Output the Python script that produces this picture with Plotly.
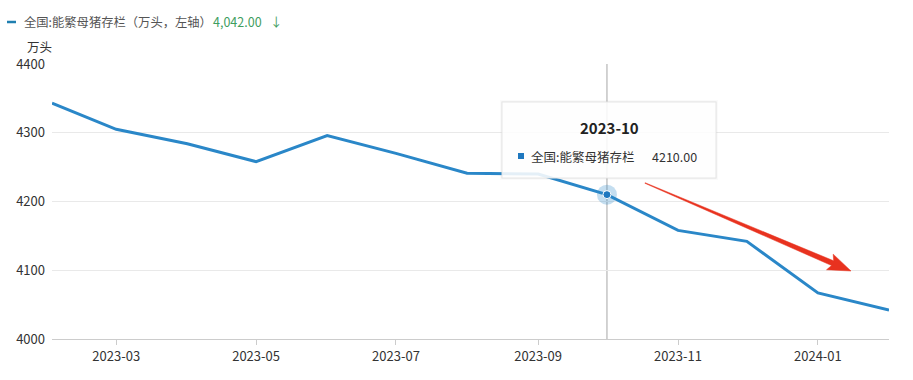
import plotly.graph_objects as go
import math

# ---- data ----
months = ["2023-02-01", "2023-03-01", "2023-04-01", "2023-05-01", "2023-06-01", "2023-07-01",
          "2023-08-01", "2023-09-01", "2023-10-01", "2023-11-01", "2023-12-01", "2024-01-01",
          "2024-02-01"]
values = [4343, 4305, 4284, 4258, 4296, 4270, 4241, 4240, 4210, 4158, 4142, 4067, 4042]
tick_vals = ["2023-03-01", "2023-05-01", "2023-07-01", "2023-09-01", "2023-11-01", "2024-01-01"]
tick_text = ["2023-03", "2023-05", "2023-07", "2023-09", "2023-11", "2024-01"]
series_name = "全国:能繁母猪存栏"
legend_label = "全国:能繁母猪存栏（万头，左轴）"
latest_text = "4,042.00"
hover_idx = 8
hover_title = "2023-10"
hover_value = "4210.00"
unit = "万头"

W, H = 913, 380
L, R, T, B = 52, 24, 64, 41
PW, PH = W - L - R, H - T - B

def px(x):
    return (x - L) / PW

def py(y):
    return (H - B - y) / PH

FONT = "Noto Sans CJK SC, Microsoft YaHei, sans-serif"
LINE_C = "#2a87c8"

fig = go.Figure()
fig.add_trace(go.Scatter(x=months, y=values, mode="lines",
                         line=dict(color=LINE_C, width=3), hoverinfo="skip", showlegend=False))
fig.add_trace(go.Scatter(x=[months[hover_idx]], y=[values[hover_idx]], mode="markers",
                         marker=dict(size=20, color="rgba(42,135,200,0.28)"),
                         hoverinfo="skip", showlegend=False))
fig.add_trace(go.Scatter(x=[months[hover_idx]], y=[values[hover_idx]], mode="markers",
                         marker=dict(size=8, color="#1f78bf", line=dict(color="white", width=1)),
                         hoverinfo="skip", showlegend=False))

shapes = []
# crosshair
shapes.append(dict(type="line", xref="x", yref="paper", x0=months[hover_idx], x1=months[hover_idx],
                   y0=0, y1=1, line=dict(color="#c4c4c4", width=1.5), layer="below"))

# tooltip box with soft shadow
bx0, bx1, by0, by1 = 502, 716, 102, 178
for d, op in [(2, 0.02), (1, 0.03)]:
    shapes.append(dict(type="rect", xref="paper", yref="paper",
                       x0=px(bx0 - d), x1=px(bx1 + d), y0=py(by1 + d), y1=py(by0 - d),
                       fillcolor="rgba(0,0,0,%s)" % op, line=dict(width=0), layer="above"))
shapes.append(dict(type="rect", xref="paper", yref="paper",
                   x0=px(bx0), x1=px(bx1), y0=py(by1), y1=py(by0),
                   fillcolor="rgba(255,255,255,0.88)", line=dict(color="#e6e6e6", width=1), layer="above"))
# blue square in tooltip
shapes.append(dict(type="rect", xref="paper", yref="paper",
                   x0=px(518), x1=px(524), y0=py(159), y1=py(153),
                   fillcolor="#1f78bf", line=dict(width=0), layer="above"))

# red tapered arrow
sx, sy = 645, 183
tx, ty = 851, 271
dx, dy = tx - sx, ty - sy
ln = math.hypot(dx, dy)
ux, uy = dx / ln, dy / ln
nx, ny = -uy, ux
hl, hw, sw_end, sw_start = 20, 8.5, 2.6, 0.3
bxp, byp = tx - hl * ux, ty - hl * uy
pts = [
    (sx + sw_start * nx, sy + sw_start * ny),
    (bxp + sw_end * nx, byp + sw_end * ny),
    (bxp + hw * nx - 3 * ux, byp + hw * ny - 3 * uy),
    (tx, ty),
    (bxp - hw * nx - 3 * ux, byp - hw * ny - 3 * uy),
    (bxp - sw_end * nx, byp - sw_end * ny),
    (sx - sw_start * nx, sy - sw_start * ny),
]
path = "M " + " L ".join("%.5f,%.5f" % (px(a), py(b)) for a, b in pts) + " Z"
shapes.append(dict(type="path", xref="paper", yref="paper", path=path,
                   fillcolor="#e8321f", line=dict(color="#e8321f", width=0.5), layer="above"))

# legend marker
shapes.append(dict(type="line", xref="paper", yref="paper", x0=px(7), x1=px(16), y0=py(22), y1=py(22),
                   line=dict(color="#1f7fb0", width=2.5)))

annotations = [
    dict(xref="paper", yref="paper", x=px(22), y=py(22), text=legend_label, showarrow=False,
         xanchor="left", yanchor="middle", font=dict(family=FONT, size=12.3, color="#555555")),
    dict(xref="paper", yref="paper", x=px(211), y=py(22), text=latest_text + "   ↓", showarrow=False,
         xanchor="left", yanchor="middle", font=dict(family=FONT, size=12.5, color="#3f9e5f")),
    dict(xref="paper", yref="paper", x=px(25), y=py(46), text=unit, showarrow=False,
         xanchor="left", yanchor="middle", font=dict(family=FONT, size=12.5, color="#333333")),
    dict(xref="paper", yref="paper", x=px(609), y=py(127), text="<b>" + hover_title + "</b>", showarrow=False,
         xanchor="center", yanchor="middle", font=dict(family=FONT, size=15, color="#222222")),
    dict(xref="paper", yref="paper", x=px(529), y=py(156), text=series_name, showarrow=False,
         xanchor="left", yanchor="middle", font=dict(family=FONT, size=12.5, color="#333333")),
    dict(xref="paper", yref="paper", x=px(699), y=py(156), text=hover_value, showarrow=False,
         xanchor="right", yanchor="middle", font=dict(family=FONT, size=12.5, color="#333333")),
]

fig.update_layout(
    width=W, height=H, margin=dict(l=L, r=R, t=T, b=B),
    paper_bgcolor="white", plot_bgcolor="white",
    shapes=shapes, annotations=annotations, showlegend=False,
    font=dict(family=FONT, size=12, color="#333333"),
)
fig.update_xaxes(type="date", range=[months[0], months[-1]], tickvals=tick_vals, ticktext=tick_text,
                 showgrid=False, showline=True, linecolor="#cccccc", linewidth=1,
                 ticks="outside", ticklen=5, tickcolor="#cccccc", zeroline=False,
                 tickfont=dict(family=FONT, size=13, color="#333333"))
fig.update_yaxes(range=[4000, 4400], dtick=100, showgrid=True, gridcolor="#e9e9e9", gridwidth=1,
                 zeroline=False, showline=False, ticks="", ticklabelstandoff=6,
                 tickfont=dict(family=FONT, size=13, color="#333333"))

fig.write_html("out.html", config={"displayModeBar": False},
               post_script="document.body.style.margin='0px';")
